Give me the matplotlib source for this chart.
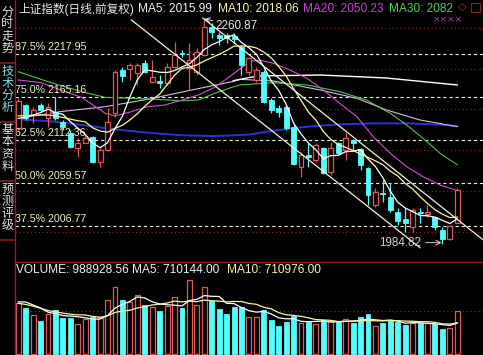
import numpy as np
import pandas as pd
import matplotlib
matplotlib.use("Agg")
import matplotlib.pyplot as plt
from matplotlib.patches import Rectangle

plt.rcParams['font.family'] = ['Liberation Sans', 'Noto Sans CJK SC', 'DejaVu Sans']

# K-line data (60 trading days)
opens = [2126.7, 2155.3, 2143.0, 2155.3, 2138.9, 2147.1, 2134.8, 2120.5, 2102.1, 2109.1,
         2116.4, 2085.8, 2100.1, 2145.1, 2198.3, 2199.1, 2194.2, 2206.5, 2183.9, 2184.8,
         2181.9, 2202.4, 2219.6, 2200.3, 2196.2, 2216.7, 2251.5, 2241.2, 2241.2, 2240.0,
         2226.9, 2196.2, 2186.0, 2196.2, 2161.4, 2151.2, 2153.3, 2128.7, 2079.6, 2093.9,
         2087.8, 2102.1, 2073.5, 2108.3, 2100.1, 2112.3, 2100.9, 2077.6, 2032.6, 2047.7,
         2042.8, 2024.4, 2015.0, 2006.0, 2024.4, 2021.5, 2017.4, 2001.9, 1990.4, 2010.0]
highs = [2163.5, 2156.1, 2153.3, 2157.4, 2157.4, 2164.7, 2136.9, 2124.6, 2114.4, 2118.5,
         2117.2, 2102.1, 2151.2, 2198.3, 2202.4, 2206.5, 2206.5, 2210.5, 2210.5, 2192.1,
         2206.5, 2233.1, 2222.8, 2231.0, 2224.9, 2260.87, 2255.6, 2245.3, 2243.3, 2243.3,
         2229.0, 2214.6, 2202.4, 2198.3, 2163.5, 2155.3, 2155.3, 2130.8, 2098.0, 2108.3,
         2108.3, 2104.2, 2110.3, 2110.3, 2120.5, 2113.2, 2102.1, 2079.6, 2053.0, 2063.2,
         2059.2, 2028.5, 2028.5, 2028.5, 2028.5, 2032.6, 2018.2, 2006.0, 2008.0, 2053.0]
lows = [2124.6, 2136.9, 2132.8, 2147.1, 2128.7, 2136.9, 2124.6, 2102.1, 2091.9, 2108.3,
        2083.7, 2079.6, 2099.0, 2141.0, 2183.9, 2186.0, 2179.9, 2194.2, 2181.9, 2175.8,
        2179.9, 2200.3, 2214.6, 2173.7, 2192.1, 2215.5, 2237.2, 2229.0, 2231.0, 2231.0,
        2192.1, 2192.1, 2183.9, 2157.4, 2145.1, 2141.0, 2124.6, 2081.6, 2067.3, 2078.8,
        2085.8, 2070.6, 2069.4, 2093.9, 2087.8, 2100.1, 2075.5, 2032.6, 2030.5, 2036.6,
        2024.4, 2008.0, 1999.8, 1999.8, 2010.0, 2018.2, 2001.9, 1984.82, 1989.6, 2010.0]
closes = [2160.6, 2138.9, 2149.2, 2149.2, 2153.3, 2138.9, 2128.7, 2104.2, 2109.1, 2115.2,
          2085.8, 2100.1, 2134.8, 2196.2, 2190.9, 2204.4, 2204.4, 2196.2, 2190.1, 2182.7,
          2202.4, 2216.7, 2217.9, 2210.5, 2220.8, 2251.5, 2245.3, 2237.2, 2237.2, 2235.9,
          2204.4, 2212.6, 2198.3, 2159.4, 2149.2, 2147.1, 2126.7, 2082.9, 2093.9, 2091.9,
          2106.2, 2071.4, 2102.1, 2096.0, 2114.4, 2109.1, 2081.6, 2044.8, 2048.9, 2046.1,
          2026.4, 2013.3, 2010.0, 2026.4, 2022.3, 2024.4, 2005.1, 1990.4, 2006.8, 2051.0]
volumes = [1180000, 1051000, 897000, 759000, 920000, 1012000, 835000, 835000, 683000, 798000,
           858000, 844000, 1242000, 1534000, 1242000, 1189000, 1357000, 1127000, 1088000, 989000,
           1104000, 1304000, 1051000, 1702000, 1127000, 1534000, 1219000, 1035000, 920000, 1088000,
           1088000, 858000, 858000, 1012000, 782000, 651000, 743000, 874000, 706000, 743000,
           683000, 782000, 759000, 743000, 805000, 706000, 858000, 913000, 651000, 720000,
           766000, 743000, 667000, 706000, 706000, 706000, 690000, 575000, 605000, 988928.56]

# first MA values (history before the window is off screen)
ma5_head = [2139.0, 2140.0, 2143.0, 2146.0]
ma10_head = [2142.0, 2142.0, 2143.0, 2143.0, 2143.0, 2142.0, 2140.0, 2138.0, 2136.0]
vma5_head = [1200000, 1195000, 1127000, 1058000]
vma10_head = [1166000, 1140000, 1100000, 1050000, 1000000, 970000, 940000, 915000, 900000]

# longer moving averages, sampled off the chart (candle index, price)
ma20_idx = [0, 3.1, 6.3, 8.5, 11.7, 13, 15.2, 17.4, 19.7, 22, 24.2, 26.4, 28.7, 31.1, 32.4,
            34.3, 36.5, 38.8, 41, 43.2, 45.5, 47.7, 50, 52.2, 54.4, 56.7, 59]
ma20_val = [2186.0, 2182.7, 2171.7, 2164.7, 2145.1, 2141.8, 2147.1, 2153.3, 2155.3, 2161.4,
            2167.6, 2177.0, 2192.1, 2208.5, 2210.5, 2206.5, 2198.3, 2188.0, 2173.7, 2157.4,
            2141.0, 2116.4, 2096.0, 2079.6, 2067.3, 2057.1, 2050.23]
ma30_idx = [0, 4, 8.5, 11.7, 15.2, 18.4, 22, 24.2, 26.4, 28.7, 29.8, 34.3, 38.8, 43.2, 46.8,
            50, 52.2, 54.4, 56.7, 59]
ma30_val = [2196.2, 2183.9, 2171.7, 2164.7, 2163.5, 2162.3, 2160.6, 2161.4, 2169.6, 2177.0,
            2179.9, 2182.7, 2179.9, 2171.7, 2161.4, 2145.1, 2130.8, 2114.4, 2096.0, 2082.0]
ma60_idx = [0, 5.6, 11.7, 17.4, 23.3, 28.7, 29.8, 34.3, 40.6, 45.5, 49.5, 54, 59]
ma60_val = [2138.9, 2147.1, 2153.3, 2162.3, 2173.7, 2183.9, 2186.8, 2184.8, 2173.7, 2163.5,
            2149.2, 2136.9, 2128.7]
ma120_idx = [28.9, 32.1, 40.6, 49.4, 59]
ma120_val = [2185.1, 2190.9, 2192.1, 2188.5, 2179.9]
ma250_idx = [0, 4, 8.5, 13, 17.4, 22, 26.4, 30.9, 34.3, 38.8, 43.2, 47.7, 52.2, 56.7, 59]
ma250_val = [2137.7, 2135.6, 2130.8, 2125.4, 2121.3, 2118.1, 2117.2, 2118.9, 2123.8, 2128.7,
             2131.6, 2132.8, 2132.8, 2131.2, 2129.5]

# golden section levels
fib_pct = ["87.5%", "75.0%", "62.5%", "50.0%", "37.5%"]
fib_val = [2217.95, 2165.16, 2112.36, 2059.57, 2006.77]

# hand drawn trend lines (candle index, price)
trend_lines = [((15.2, 2259.7), (54.0, 1980.1)),
               ((24.8, 2262.1), (62.5, 1989.6))]

tabs = ["分时走势", "技术分析", "基本资料", "预测评级"]

W, H = 483, 355
fig = plt.figure(figsize=(W / 100, H / 100), dpi=100, facecolor='black')

RED = '#e05858'
CYAN = '#54fcfc'
n = len(closes)
x = np.arange(n)

ax = fig.add_axes([15 / W, 94 / H, 468 / W, 261 / H], facecolor='black')
axv = fig.add_axes([15 / W, 0, 468 / W, 93 / H], facecolor='black')
for a in (ax, axv):
    a.set_xlim(-0.44, 62.46)
    a.set_xticks([])
    a.set_yticks([])
    for s in a.spines.values():
        s.set_visible(False)
ax.set_ylim(1963.8, 2284.2)
axv.set_ylim(-23000, 2116000)

# grid
for g in range(2000, 2300, 50):
    ax.axhline(g, color='#a02020', lw=0.8, ls=(0, (1, 2.5)), zorder=1)
axv.axhline(1000000, color='#a02020', lw=0.8, ls=(0, (1, 2.5)), zorder=1)

# fib levels
for p, v in zip(fib_pct, fib_val):
    ax.axhline(v, color='#f0f0e0', lw=0.8, ls=(0, (3, 2.5)), zorder=2)
    ax.annotate(f"{p} {v:.2f}", xy=(-0.38, v), xytext=(0, 1.5), textcoords='offset points',
                color='#f0f0c8', fontsize=7.7, va='bottom', ha='left', zorder=6)

# long MA lines
ax.plot(ma250_idx, ma250_val, color='#3030d0', lw=1.4, zorder=3)
ax.plot(ma60_idx, ma60_val, color='#d8b8e8', lw=0.8, zorder=3)
ax.plot(ma120_idx, ma120_val, color='white', lw=1.0, zorder=3)
ax.plot(ma30_idx, ma30_val, color='#50c050', lw=0.8, zorder=3)
ax.plot(ma20_idx, ma20_val, color='#d050d0', lw=0.8, zorder=3)

# candles
w = 0.66
for i in range(n):
    o, h, l, c = opens[i], highs[i], lows[i], closes[i]
    if c >= o:
        ax.vlines(i, l, h, color=RED, lw=0.9, zorder=4)
        ax.add_patch(Rectangle((i - w / 2, o), w, max(c - o, 0.4), facecolor='black',
                               edgecolor=RED, lw=0.9, zorder=5))
    else:
        ax.vlines(i, l, h, color=CYAN, lw=0.9, zorder=4)
        ax.add_patch(Rectangle((i - w / 2, c), w, max(o - c, 0.8), facecolor=CYAN,
                               edgecolor=CYAN, lw=0.6, zorder=5))

# MA5 / MA10
cs = pd.Series(closes)
ma5 = cs.rolling(5).mean().to_numpy()
ma10 = cs.rolling(10).mean().to_numpy()
ma5[:len(ma5_head)] = ma5_head
ma10[:len(ma10_head)] = ma10_head
ax.plot(x, ma5, color='white', lw=0.9, zorder=6)
ax.plot(x, ma10, color='#f8f8a0', lw=0.9, zorder=6)

# trend lines
for (x0, y0), (x1, y1) in trend_lines:
    ax.plot([x0, x1], [y0, y1], color='#f0f0d8', lw=0.9, zorder=7)

# high / low marks
ih = int(np.argmax(highs))
il = int(np.argmin(lows))
ax.annotate(f"{highs[ih]:.2f}", xy=(ih, highs[ih]), xytext=(ih + 1.5, highs[ih] - 8),
            color='#e8e8e8', fontsize=8.4, va='center', ha='left', zorder=8,
            arrowprops=dict(arrowstyle='->', color='#e8e8e8', lw=0.7, shrinkA=0, shrinkB=0))
ax.annotate(f"{lows[il]:.2f}", xy=(il - 0.1, lows[il] + 1.5), xytext=(il - 2.8, lows[il] + 1.5),
            color='#d0d0d0', fontsize=8.4, va='center', ha='right', zorder=8,
            arrowprops=dict(arrowstyle='->', color='#d0d0d0', lw=0.7, shrinkA=1, shrinkB=0))

# volume bars
for i in range(n):
    if closes[i] >= opens[i]:
        axv.add_patch(Rectangle((i - w / 2, 0), w, volumes[i], facecolor='black',
                                edgecolor=RED, lw=0.9, zorder=3))
    else:
        axv.add_patch(Rectangle((i - w / 2, 0), w, volumes[i], facecolor=CYAN,
                                edgecolor=CYAN, lw=0.6, zorder=3))
vs = pd.Series(volumes)
vma5 = vs.rolling(5).mean().to_numpy()
vma10 = vs.rolling(10).mean().to_numpy()
vma5[:len(vma5_head)] = vma5_head
vma10[:len(vma10_head)] = vma10_head
axv.plot(x, vma5, color='white', lw=0.9, zorder=4)
axv.plot(x, vma10, color='#f8f8a0', lw=0.9, zorder=4)

# header texts
def ftxt(px, py, s, col, size=8.6, **kw):
    fig.text(px / W, 1 - py / H, s, color=col, fontsize=size, va='center', ha='left', **kw)

ftxt(18, 9, "上证指数(日线,前复权)", '#e8e8e8', size=8.4)
ftxt(138, 9, "MA5: 2015.99", '#f0f0f0')
ftxt(218, 9, "MA10: 2018.06", '#f8f8a0')
ftxt(303, 9, "MA20: 2050.23", '#d040d0')
ftxt(389, 9, "MA30: 2082", '#50d050')
ftxt(458, 7, "◇", '#a03030', size=8, family='DejaVu Sans')
ftxt(470, 7, "□", '#c03030', size=9, family='DejaVu Sans')
ftxt(433, 20, "××××", '#c040c0', size=6.5, family='DejaVu Sans')
ftxt(16, 270, "VOLUME: 988928.56 MA5: 710144.00", '#f0f0f0')
ftxt(227, 270, "MA10: 710976.00", '#f8f8a0')

# side tabs
for k, t in enumerate(tabs):
    col = '#80e0e0' if k == 1 else '#e0e0e0'
    for j, ch in enumerate(t):
        fig.text(7.5 / W, 1 - (12 + 59 * k + 12 * j) / H, ch, color=col, fontsize=8.7,
                 ha='center', va='center', family=['Noto Sans CJK SC'])
    yb = 63 + 59 * k
    fig.add_artist(plt.Line2D([0, 14 / W], [1 - yb / H, 1 - yb / H], color='#802020', lw=1.2))
fig.add_artist(plt.Line2D([14.5 / W, 14.5 / W], [0, 1], color='#902020', lw=1.0))
fig.add_artist(plt.Line2D([15 / W, 1], [1 - 261.5 / H, 1 - 261.5 / H], color='#902020', lw=1.0))

fig.savefig("out.png", dpi=100, facecolor='black')
